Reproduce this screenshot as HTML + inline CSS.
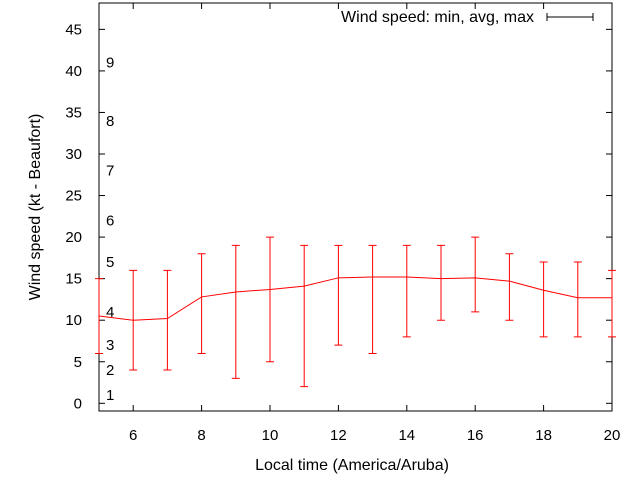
<!DOCTYPE html>
<html><head><meta charset="utf-8"><style>
body{margin:0;background:#fff;}
svg{display:block;font-family:"Liberation Sans",sans-serif;}
</style></head><body>
<svg id="chart" width="640" height="480" viewBox="0 0 640 480"></svg>
<script>
const hours=[5,6,7,8,9,10,11,12,13,14,15,16,17,18,19,20];
const avgSpeed=[10.5,10.0,10.2,12.8,13.4,13.7,14.1,15.1,15.2,15.2,15.0,15.1,14.7,13.6,12.7,12.7];
const minSpeed=[6,4,4,6,3,5,2,7,6,8,10,11,10,8,8,8];
const maxSpeed=[15,16,16,18,19,20,19,19,19,19,19,20,18,17,17,16];
const yTicks=[0,5,10,15,20,25,30,35,40,45];
const xTicks=[6,8,10,12,14,16,18,20];
const beaufortLabels=["1","2","3","4","5","6","7","8","9"];
const beaufortY=[1,4,7,11,17,22,28,34,41];

const L=99,R=612,T=3,B=411;
const xs=h=>L+(h-5)*(R-L)/15;
const ys=v=>403.3-v*8.31;
const NS="http://www.w3.org/2000/svg";
const svg=document.getElementById('chart');
function el(tag,attrs,parent){const e=document.createElementNS(NS,tag);for(const k in attrs)e.setAttribute(k,attrs[k]);(parent||svg).appendChild(e);return e;}

const frame=el('rect',{x:L,y:T,width:R-L,height:B-T,fill:'none',stroke:'#000','stroke-width':1});



yTicks.forEach(v=>{
  const y=ys(v);
  const t=el('line',{x1:L,x2:L+6,y1:y,y2:y,stroke:'#000'});
  
  
  const t2=el('line',{x1:R,x2:R-6,y1:y,y2:y,stroke:'#000'});
  
  
  const lb=el('text',{x:82,y:y+5,'text-anchor':'end','font-size':15});
  lb.textContent=v;
  
  
});
xTicks.forEach(h=>{
  const x=xs(h);
  const t=el('line',{x1:x,x2:x,y1:B,y2:B-6,stroke:'#000'});
  
  
  const t2=el('line',{x1:x,x2:x,y1:T,y2:T+6,stroke:'#000'});
  
  
  const lb=el('text',{x:x,y:440,'text-anchor':'middle','font-size':15});
  lb.textContent=h;
  
  
});
beaufortLabels.forEach((s,i)=>{
  const lb=el('text',{x:106,y:ys(beaufortY[i])+5,'font-size':15});
  lb.textContent=s;
  
  
});

const g=el('g',{});


hours.forEach((h,i)=>{
  const x=xs(h);
  const bar=el('path',{d:`M${x},${ys(minSpeed[i])}V${ys(maxSpeed[i])}M${x-4},${ys(minSpeed[i])}H${x+4}M${x-4},${ys(maxSpeed[i])}H${x+4}`,stroke:'#f00',fill:'none','stroke-width':1},g);
  
  
});
const line=el('polyline',{points:hours.map((h,i)=>xs(h)+','+ys(avgSpeed[i])).join(' '),stroke:'#f00',fill:'none','stroke-width':1},g);



const lt=el('text',{x:534,y:22,'text-anchor':'end','font-size':16});
lt.textContent='Wind speed: min, avg, max';


const lk=el('path',{d:'M547,17H593M547,13V21M593,13V21',stroke:'#000',fill:'none'});



const xt=el('text',{x:352,y:470,'text-anchor':'middle','font-size':16});
xt.textContent='Local time (America/Aruba)';


const yt=el('text',{x:0,y:0,'text-anchor':'middle','font-size':16,transform:'translate(40,207) rotate(-90)'});
yt.textContent='Wind speed (kt - Beaufort)';


</script>
</body></html>
